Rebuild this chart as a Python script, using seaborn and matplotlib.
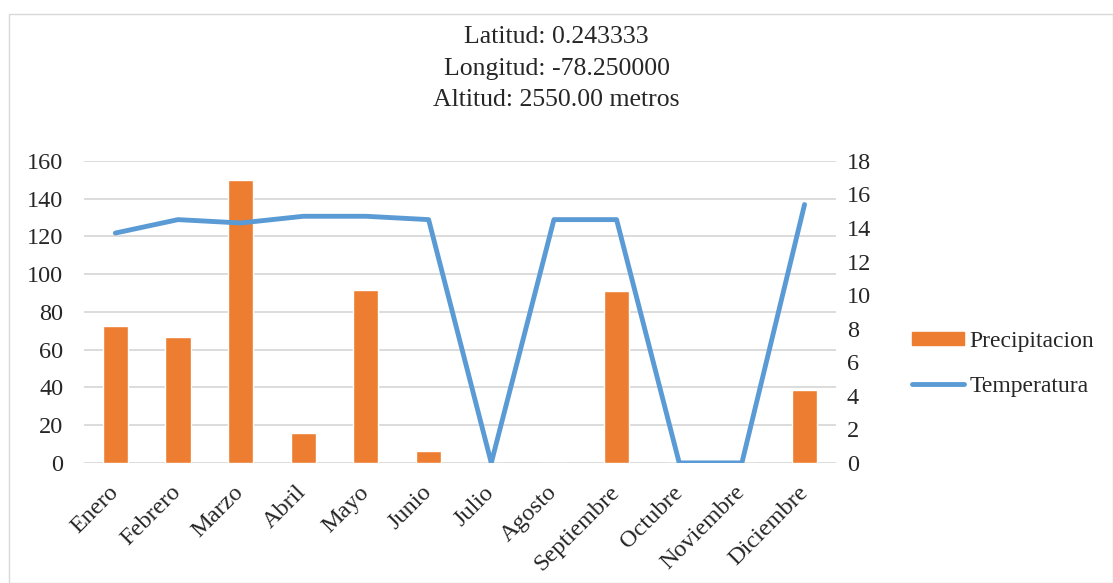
import pandas as pd
import matplotlib.pyplot as plt
import seaborn as sns
from matplotlib.patches import Rectangle, Patch
from matplotlib.lines import Line2D

# datos
meses = ['Enero', 'Febrero', 'Marzo', 'Abril', 'Mayo', 'Junio', 'Julio',
         'Agosto', 'Septiembre', 'Octubre', 'Noviembre', 'Diciembre']
precipitacion = [72.6, 66.8, 149.8, 15.9, 91.7, 6.4, 0, 0, 91.1, 0, 0, 38.7]
temperatura = [13.7, 14.5, 14.3, 14.7, 14.7, 14.5, 0, 14.5, 14.5, 0, 0, 15.4]

df = pd.DataFrame({'Mes': meses, 'Precipitacion': precipitacion, 'Temperatura': temperatura})

sns.set_style('white')
plt.rcParams['font.family'] = ['Liberation Serif', 'DejaVu Serif']

fig = plt.figure(figsize=(11.13, 5.83), dpi=100)
ax = fig.add_axes([0.0755, 0.206, 0.6755, 0.518])

# barras de precipitacion
sns.barplot(data=df, x='Mes', y='Precipitacion', color='#ED7D31', width=0.4,
            saturation=1, ax=ax)
ax.set_ylim(0, 160)
ax.set_yticks(range(0, 161, 20))
ax.grid(axis='y', color='#D9D9D9', linewidth=1.3)
ax.set_axisbelow(True)
ax.set_xlim(-0.5, 11.5)
ax.set_xlabel('')
ax.set_ylabel('')
for s in ax.spines.values():
    s.set_visible(False)
ax.tick_params(axis='both', length=0, labelsize=17.5)
ax.tick_params(axis='y', pad=15)
ax.tick_params(axis='x', pad=19)

# linea de temperatura en eje secundario
ax2 = ax.twinx()
sns.lineplot(x=list(range(len(meses))), y=temperatura, color='#5B9BD5',
             linewidth=3.5, ax=ax2, sort=False, solid_capstyle='round')
ax2.set_ylim(0, 18)
ax2.set_yticks(range(0, 19, 2))
ax2.set_xlim(-0.5, 11.5)
for s in ax2.spines.values():
    s.set_visible(False)
ax2.tick_params(axis='y', length=0, labelsize=17.5, pad=8)
ax.set_xticks(range(len(meses)))
ax.set_xticklabels(meses, rotation=45, ha='right', va='center',
                   rotation_mode='anchor', fontsize=17.5)

fig.text(0.5, 0.955, 'Latitud: 0.243333\nLongitud: -78.250000\nAltitud: 2550.00 metros',
         ha='center', va='top', fontsize=18.5, linespacing=1.56)

handles = [Patch(color='#ED7D31'), Line2D([0], [0], color='#5B9BD5', linewidth=3.5)]
fig.legend(handles, ['Precipitacion', 'Temperatura'], loc='center left',
           bbox_to_anchor=(0.8, 0.376), frameon=False, fontsize=17,
           handlelength=2.2, handleheight=0.5, labelspacing=1.0, handletextpad=0.25)

fig.add_artist(Rectangle((0.008, 0.0), 0.992, 0.976, transform=fig.transFigure,
                         fill=False, edgecolor='#D9D9D9', linewidth=1))

plt.savefig('out.png', dpi=100)
